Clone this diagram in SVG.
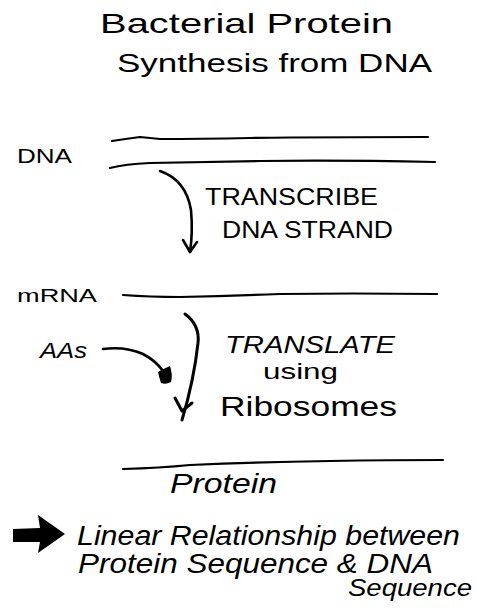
<svg xmlns="http://www.w3.org/2000/svg" width="477" height="611" viewBox="0 0 477 611">
<style>
text{font-family:"Liberation Sans","DejaVu Sans",sans-serif;fill:#000}
.it{font-style:italic}
.ln{fill:none;stroke:#000;stroke-width:2.2;stroke-linecap:round;stroke-linejoin:round}
.ar{fill:none;stroke:#000;stroke-width:2.6;stroke-linecap:round;stroke-linejoin:round}
</style>
<rect width="477" height="611" fill="#fff"/>
<g id="title">
<text x="100" y="33" font-size="28" textLength="293" lengthAdjust="spacingAndGlyphs">Bacterial Protein</text>
<text x="117" y="72" font-size="26" textLength="315" lengthAdjust="spacingAndGlyphs">Synthesis from DNA</text>
</g>
<g id="dna">
<text x="17" y="163" font-size="21" textLength="55" lengthAdjust="spacingAndGlyphs">DNA</text>
<path class="ln" d="M112 141 Q125 139 140 137 Q150 138 160 139 Q200 139 250 138 Q320 137 428 137"/>
<path class="ln" d="M110 168 Q125 164 150 163 Q200 162 260 161 Q340 160 435 162"/>
</g>
<g id="mrna">
<text x="17" y="302" font-size="19" textLength="80" lengthAdjust="spacingAndGlyphs">mRNA</text>
<path class="ln" d="M123 295 Q150 297 180 297 Q230 296 280 294 Q350 293 437 294"/>
</g>
<g id="aas">
<text x="40" y="358" font-size="22" class="it" textLength="47" lengthAdjust="spacingAndGlyphs">AAs</text>
</g>
<g id="protein">
<path class="ln" d="M123 469 Q160 468 190 465 Q260 462 330 461 Q390 460 443 460"/>
<text x="170" y="493" font-size="28" class="it" textLength="107" lengthAdjust="spacingAndGlyphs">Protein</text>
</g>
<g id="labels">
<text x="205" y="205" font-size="24" textLength="173" lengthAdjust="spacingAndGlyphs">TRANSCRIBE</text>
<text x="222" y="238" font-size="24" textLength="171" lengthAdjust="spacingAndGlyphs">DNA STRAND</text>
<text x="225" y="353" font-size="24" class="it" textLength="170" lengthAdjust="spacingAndGlyphs">TRANSLATE</text>
<text x="263" y="379" font-size="22" textLength="75" lengthAdjust="spacingAndGlyphs">using</text>
<text x="220" y="416" font-size="27" textLength="177" lengthAdjust="spacingAndGlyphs">Ribosomes</text>
</g>
<g id="conclusion">
<path d="M13 529 L40 528 L38 515 L65 534 L38 553 L40 542 L13 542 Z" fill="#000"/>
<text x="77" y="545" font-size="27" class="it" textLength="383" lengthAdjust="spacingAndGlyphs">Linear Relationship between</text>
<text x="78" y="573" font-size="27" class="it" textLength="355" lengthAdjust="spacingAndGlyphs">Protein Sequence &amp; DNA</text>
<text x="348" y="596" font-size="23" class="it" textLength="124" lengthAdjust="spacingAndGlyphs">Sequence</text>
</g>
<g id="connectors">
<path class="ar" d="M160 171 Q186 180 191 210 Q193 232 190 252"/>
<path class="ar" d="M183 240 L190 252 L197 242"/>
<path class="ar" style="stroke-width:3" d="M185 314 Q200 325 198 343 Q194 380 182 420"/>
<path class="ar" style="stroke-width:3" d="M175 398 L182 411 L192 403"/>
<path class="ar" d="M103 349 Q125 346 143 354 Q156 361 163 371"/>
<path d="M158 372 Q165 368 170 366 Q173 375 171 382 Q166 385 161 383 Q159 377 158 372 Z" fill="#000"/>
</g>
</svg>
